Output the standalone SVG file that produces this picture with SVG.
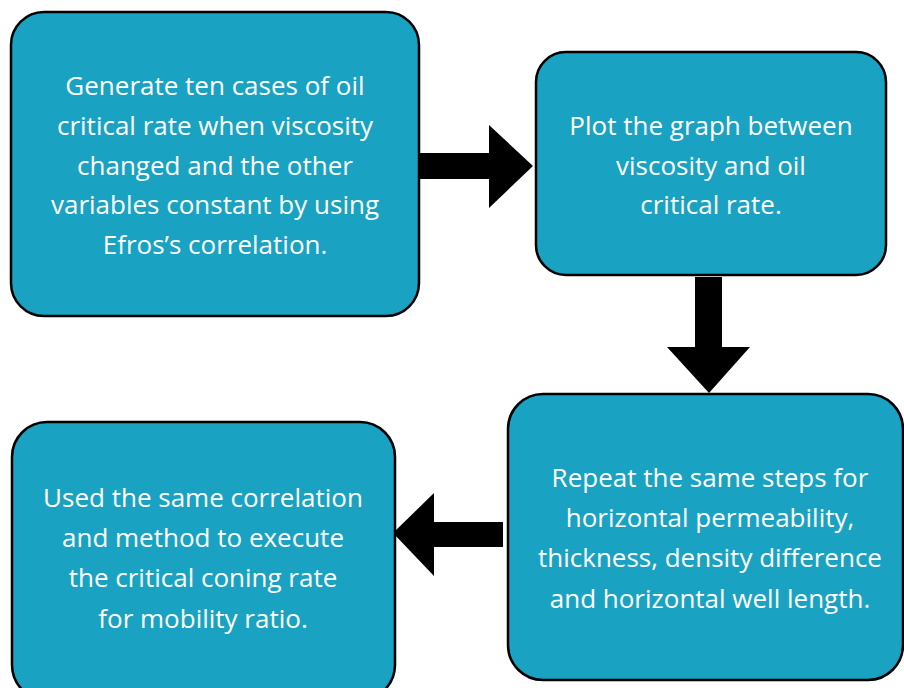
<svg xmlns="http://www.w3.org/2000/svg" width="904" height="688" viewBox="0 0 904 688">
<style>
.box{fill:#1aa2c2;stroke:#000;stroke-width:2.5}
.t{font-family:"Open Sans","Liberation Sans",sans-serif;font-size:26px;fill:#fff;text-anchor:middle}
.arr{fill:#000}
</style>
<rect width="904" height="688" fill="#fff"/>
<g id="connectors">
<polygon class="arr" points="419,153 489,153 489,125 533,166 489,208 489,179 419,179"/>
<polygon class="arr" points="695,277 722,277 722,347 750,347 709,393 667,347 695,347"/>
<polygon class="arr" points="503,522 434,522 434,493 393,533 434,576 434,547 503,547"/>
</g>
<g id="node1">
<rect class="box" x="11" y="12" width="408" height="304" rx="33"/>
<text class="t"><tspan x="215" y="95">Generate ten cases of oil</tspan><tspan x="215" y="135">critical rate when viscosity</tspan><tspan x="215" y="175">changed and the other</tspan><tspan x="215" y="214">variables constant by using</tspan><tspan x="215" y="254">Efros’s correlation.</tspan></text>
</g>
<g id="node2">
<rect class="box" x="536" y="52" width="350" height="223" rx="30"/>
<text class="t"><tspan x="711" y="135">Plot the graph between</tspan><tspan x="711" y="175">viscosity and oil</tspan><tspan x="711" y="214">critical rate.</tspan></text>
</g>
<g id="node3">
<rect class="box" x="508" y="394" width="395" height="286" rx="35"/>
<text class="t"><tspan x="710" y="487">Repeat the same steps for</tspan><tspan x="710" y="527">horizontal permeability,</tspan><tspan x="710" y="567">thickness, density difference</tspan><tspan x="710" y="608">and horizontal well length.</tspan></text>
</g>
<g id="node4">
<rect class="box" x="12" y="422" width="383" height="278" rx="35"/>
<text class="t"><tspan x="203" y="507">Used the same correlation</tspan><tspan x="203" y="547">and method to execute</tspan><tspan x="203" y="587">the critical coning rate</tspan><tspan x="203" y="628">for mobility ratio.</tspan></text>
</g>
</svg>
